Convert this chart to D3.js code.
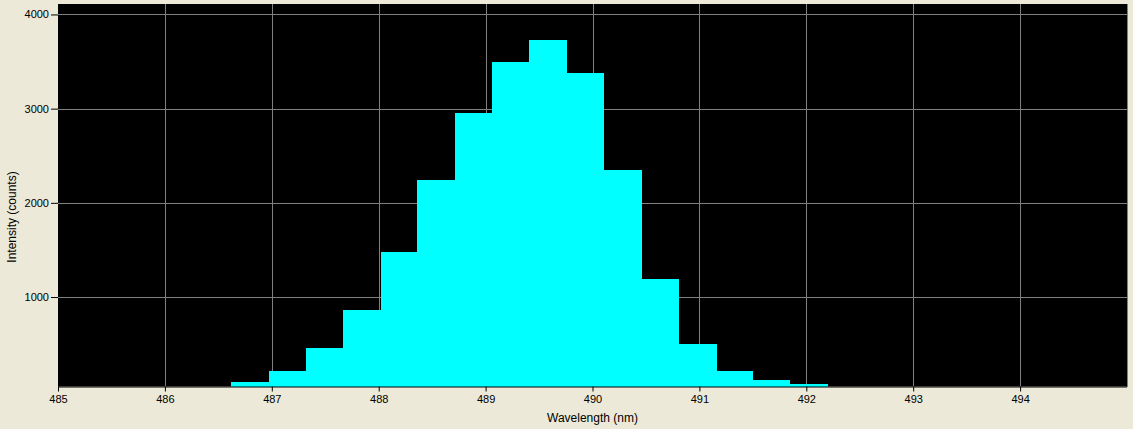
<!DOCTYPE html>
<html><head><meta charset="utf-8">
<script src="https://cdn.jsdelivr.net/npm/d3@7"></script>
<style>
html,body{margin:0;padding:0;background:#ECE9D8;}
svg{display:block;}
text{font-family:"Liberation Sans",Arial,sans-serif;fill:#000;}
</style></head>
<body>
<svg id="c" width="1133" height="429"></svg>
<script>
const binEdges = [486.62, 486.97, 487.32, 487.67, 488.02, 488.36, 488.71, 489.06, 489.41, 489.76, 490.11, 490.46, 490.81, 491.16, 491.50, 491.85, 492.20];
const counts = [98, 214, 459, 862, 1477, 2245, 2957, 3500, 3734, 3383, 2351, 1191, 501, 214, 119, 77];
const xTicks = [485, 486, 487, 488, 489, 490, 491, 492, 493, 494];
const yTicks = [1000, 2000, 3000, 4000];
const xTitle = "Wavelength (nm)";
const yTitle = "Intensity (counts)";

const svg = d3.select("#c");
const L = 58, R = 1127, T = 4, B = 386.5;
const x = d3.scaleLinear().domain([485, 495]).range([L, R]);
const y = d3.scaleLinear().domain([50, 4111]).range([B, T]);

svg.append("rect").attr("x", L).attr("y", T).attr("width", R - L).attr("height", B - T).attr("fill", "#000");

const grid = svg.append("g").attr("stroke", "#808080").attr("stroke-width", 1).attr("shape-rendering", "crispEdges");
grid.selectAll("line.vx").data(xTicks.slice(1).concat([495])).join("line")
  .attr("x1", d => Math.round(x(d)) + 0.5).attr("x2", d => Math.round(x(d)) + 0.5)
  .attr("y1", T).attr("y2", B);
grid.selectAll("line.hy").data(yTicks).join("line")
  .attr("y1", d => Math.round(y(d)) + 0.5).attr("y2", d => Math.round(y(d)) + 0.5)
  .attr("x1", L).attr("x2", R);

const bins = counts.map((c, i) => ({x0: binEdges[i], x1: binEdges[i + 1], v: c}));
svg.append("g").selectAll("rect").data(bins).join("rect")
  .attr("x", d => x(d.x0)).attr("width", d => x(d.x1) - x(d.x0))
  .attr("y", d => y(d.v)).attr("height", d => B - y(d.v))
  .attr("fill", "#00FFFF").attr("shape-rendering", "crispEdges");

const xAxis = svg.append("g").attr("transform", `translate(0,${B})`)
  .call(d3.axisBottom(x).tickValues(xTicks).tickFormat(d3.format("d")).tickSize(5).tickPadding(4));
xAxis.select(".domain").attr("stroke", "#000").attr("d", `M${L},0.5H${R}`);
xAxis.selectAll(".tick line").attr("stroke", "#000");
xAxis.selectAll("text").attr("font-size", 11).attr("font-family", "Liberation Sans, Arial, sans-serif");

const yAxis = svg.append("g").attr("transform", `translate(${L},0)`)
  .call(d3.axisLeft(y).tickValues(yTicks).tickFormat(d3.format("d")).tickSize(7).tickPadding(2));
yAxis.select(".domain").remove();
yAxis.selectAll(".tick line").attr("stroke", "#000");
yAxis.selectAll("text").attr("font-size", 11).attr("font-family", "Liberation Sans, Arial, sans-serif");

svg.append("text").attr("x", (L + R) / 2).attr("y", 422).attr("text-anchor", "middle")
  .attr("font-size", 12).text(xTitle);
svg.append("text").attr("transform", "translate(16,217) rotate(-90)").attr("text-anchor", "middle")
  .attr("font-size", 12).text(yTitle);
</script>
</body></html>
